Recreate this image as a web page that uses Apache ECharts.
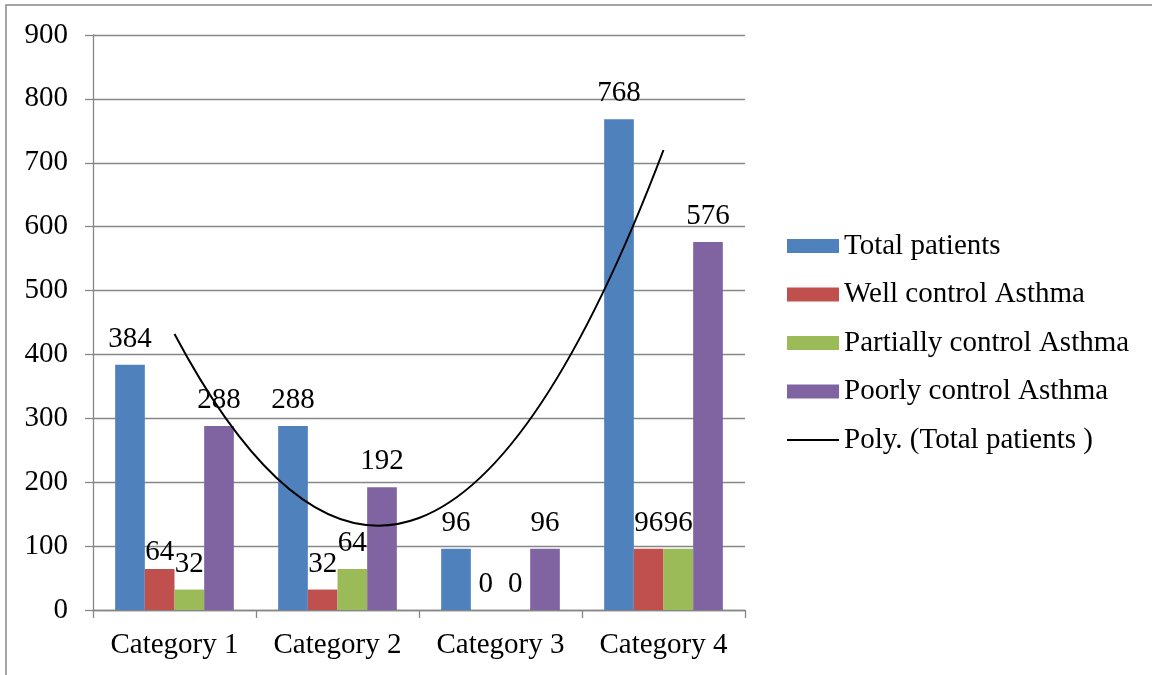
<!DOCTYPE html>
<html>
<head>
<meta charset="utf-8">
<script src="https://cdn.jsdelivr.net/npm/echarts@6/dist/echarts.min.js"></script>
<style>
html,body{margin:0;padding:0;background:#fff;}
#chart{width:1152px;height:675px;}
</style>
</head>
<body>
<div id="chart"></div>
<script>
var categories = ['Category 1', 'Category 2', 'Category 3', 'Category 4'];
var totalPatients = [384, 288, 96, 768];
var wellControl = [64, 32, 0, 96];
var partialControl = [32, 64, 0, 96];
var poorControl = [288, 192, 96, 576];
var yTicks = [0, 900, 100]; // min, max, step

var font = "'Liberation Serif', 'Times New Roman', serif";

// order-2 polynomial trendline of total patients (least squares, x = 1..n)
function polyFit(ys){
    var n = ys.length, xs = ys.map(function(v, i){ return i + 1; });
    var s = [0,0,0,0,0], t = [0,0,0];
    for (var i = 0; i < n; i++) {
        for (var k = 0; k < 5; k++) s[k] += Math.pow(xs[i], k);
        for (var k = 0; k < 3; k++) t[k] += ys[i] * Math.pow(xs[i], k);
    }
    var m = [[s[0],s[1],s[2],t[0]],[s[1],s[2],s[3],t[1]],[s[2],s[3],s[4],t[2]]];
    for (var c = 0; c < 3; c++) {
        for (var r = c + 1; r < 3; r++) {
            var f = m[r][c] / m[c][c];
            for (var j = c; j < 4; j++) m[r][j] -= f * m[c][j];
        }
    }
    var a = [0,0,0];
    for (var r = 2; r >= 0; r--) {
        var v = m[r][3];
        for (var j = r + 1; j < 3; j++) v -= m[r][j] * a[j];
        a[r] = v / m[r][r];
    }
    return a;
}
var coef = polyFit(totalPatients);
function trend(x){ return coef[0] + coef[1] * x + coef[2] * x * x; }
var x0 = 1, x2 = categories.length, xm = (x0 + x2) / 2;
// a parabola is exactly a quadratic bezier: ends + one control point
var trendStart = [x0, trend(x0)];
var trendEnd = [x2, trend(x2)];
var trendCtrl = [xm, 2 * trend(xm) - (trend(x0) + trend(x2)) / 2];

var labelStyle = {
    show: true,
    position: 'top',
    distance: 11,
    color: '#000',
    fontFamily: font,
    fontSize: 29
};

function barSeries(name, values, color, extra){
    return {
        name: name,
        type: 'bar',
        barWidth: '18.2%',
        barGap: '0%',
        itemStyle: { color: color },
        label: labelStyle,
        data: values.map(function(v, i){
            return extra && extra[i] ? { value: v, label: extra[i] } : v;
        })
    };
}

var myChart = echarts.init(document.getElementById('chart'));
myChart.setOption({
    animation: false,
    textStyle: { fontFamily: font },
    graphic: [{
        type: 'rect',
        shape: { x: 6, y: 5, width: 1200, height: 720 },
        style: { fill: 'none', stroke: '#888', lineWidth: 1.5 },
        silent: true
    }],
    grid: { left: 93, right: 407, top: 35, bottom: 65 },
    legend: {
        orient: 'vertical',
        left: 782,
        top: 225,
        itemWidth: 52,
        itemHeight: 14,
        itemGap: 16.5,
        textStyle: { fontFamily: font, fontSize: 29, color: '#000', lineHeight: 32 },
        data: [
            { name: 'Total patients', icon: 'rect' },
            { name: 'Well control Asthma', icon: 'rect' },
            { name: 'Partially control Asthma', icon: 'rect' },
            { name: 'Poorly control Asthma', icon: 'rect' },
            { name: 'Poly. (Total patients )', icon: 'path://M0 0H52V2H0Z', itemStyle: { color: '#000' } }
        ]
    },
    xAxis: [{
        type: 'category',
        data: categories,
        boundaryGap: true,
        axisLine: { lineStyle: { color: '#868686', width: 1.3 } },
        axisTick: { show: true, length: 8, lineStyle: { color: '#868686', width: 1.3 } },
        axisLabel: { color: '#000', fontFamily: font, fontSize: 29, margin: 21, interval: 0 }
    }, {
        type: 'value',
        min: 0.5,
        max: categories.length + 0.5,
        show: false
    }],
    yAxis: {
        type: 'value',
        min: yTicks[0],
        max: yTicks[1],
        interval: yTicks[2],
        axisLine: { show: true, lineStyle: { color: '#868686', width: 1.3 } },
        axisTick: { show: true, inside: false, length: 8, lineStyle: { color: '#868686', width: 1.3 } },
        splitLine: { lineStyle: { color: '#868686', width: 1.3 } },
        axisLabel: { color: '#000', fontFamily: font, fontSize: 29, margin: 25 }
    },
    series: [
        barSeries('Total patients', totalPatients, '#4F81BD'),
        barSeries('Well control Asthma', wellControl, '#C0504D', [{ distance: 2 }]),
        barSeries('Partially control Asthma', partialControl, '#9BBB59'),
        barSeries('Poorly control Asthma', poorControl, '#8064A2'),
        {
            name: 'Poly. (Total patients )',
            type: 'custom',
            xAxisIndex: 1,
            itemStyle: { color: '#000' },
            data: [trendStart],
            renderItem: function(params, api){
                var p0 = api.coord(trendStart);
                var p1 = api.coord(trendCtrl);
                var p2 = api.coord(trendEnd);
                return {
                    type: 'bezierCurve',
                    shape: { x1: p0[0], y1: p0[1], cpx1: p1[0], cpy1: p1[1], x2: p2[0], y2: p2[1] },
                    style: { fill: 'none', stroke: '#000', lineWidth: 2 }
                };
            },
            z: 5
        }
    ]
});
</script>
</body>
</html>
